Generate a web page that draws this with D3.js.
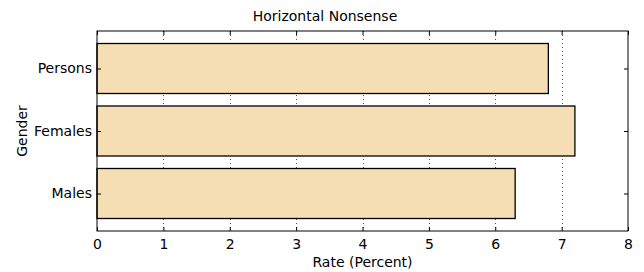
<!DOCTYPE html>
<html>
<head>
<meta charset="utf-8">
<script src="https://cdn.jsdelivr.net/npm/d3@7"></script>
<style>
body { margin: 0; background: #fff; }
text { font-family: "DejaVu Sans", sans-serif; fill: #000; }
</style>
</head>
<body>
<div id="chart"></div>
<script>
// data
const categories = ['Males', 'Females', 'Persons'];
const rates = [6.3, 7.2, 6.8];
const xTicks = [0, 1, 2, 3, 4, 5, 6, 7, 8];

const width = 644, height = 272;
const margin = {top: 31, right: 16, bottom: 41, left: 97};
const w = width - margin.left - margin.right;
const h = height - margin.top - margin.bottom;

const svg = d3.select('#chart')
.append('svg')
.attr('width', width)
.attr('height', height)

const g = svg.append('g')
.attr('transform', `translate(${margin.left},${margin.top})`)

const x = d3.scaleLinear()
.domain([0, 8])
.range([0, w])

// bar positions 0,1,2 with height 0.8, limits like matplotlib
const y = d3.scaleLinear()
.domain([-0.6, 2.6])
.range([h, 0])

// grid
g.append('g')
.selectAll('line')
.data(xTicks.slice(1, -1))
.enter()
.append('line')
.attr('x1', d => Math.round(x(d)) + 0.5)
.attr('x2', d => Math.round(x(d)) + 0.5)
.attr('y1', 0)
.attr('y2', h)
.attr('stroke', '#555')
.attr('stroke-width', 1)
.attr('stroke-dasharray', '1,3')

// bars
g.append('g')
.selectAll('rect')
.data(categories)
.enter()
.append('rect')
.attr('x', x(0))
.attr('y', (d, i) => y(i + 0.4))
.attr('width', (d, i) => x(rates[i]) - x(0))
.attr('height', y(-0.4) - y(0.4))
.attr('fill', '#f5deb3')
.attr('stroke', '#000')
.attr('stroke-width', 1.3)

// axes with ticks pointing inward
const xAxis = g.append('g')
.attr('transform', `translate(0,${h})`)
.call(d3.axisBottom(x).tickValues(xTicks).tickFormat(d3.format('d')).tickSize(-4).tickPadding(8))

const xTop = g.append('g')
.call(d3.axisTop(x).tickValues(xTicks).tickSize(-4).tickFormat(''))

const yAxis = g.append('g')
.call(d3.axisLeft(y).tickValues([0, 1, 2]).tickFormat(i => categories[i]).tickSize(-4).tickPadding(5))

const yRight = g.append('g')
.attr('transform', `translate(${w},0)`)
.call(d3.axisRight(y).tickValues([0, 1, 2]).tickSize(-4).tickFormat(''))

g.selectAll('.domain').remove()
g.selectAll('.tick line').attr('stroke', '#000')
g.selectAll('.tick text').style('font-size', '14px')

// frame
g.append('rect')
.attr('x', 0)
.attr('y', 0)
.attr('width', w)
.attr('height', h)
.attr('fill', 'none')
.attr('stroke', '#000')
.attr('stroke-width', 1)

// labels
svg.append('text')
.attr('x', 325)
.attr('y', 21)
.attr('text-anchor', 'middle')
.style('font-size', '14px')
.text('Horizontal Nonsense')

svg.append('text')
.attr('x', margin.left + w / 2)
.attr('y', 267)
.attr('text-anchor', 'middle')
.style('font-size', '14px')
.text('Rate (Percent)')

svg.append('text')
.attr('transform', `translate(27,${margin.top + h / 2}) rotate(-90)`)
.attr('text-anchor', 'middle')
.style('font-size', '14px')
.text('Gender')
</script>
</body>
</html>
